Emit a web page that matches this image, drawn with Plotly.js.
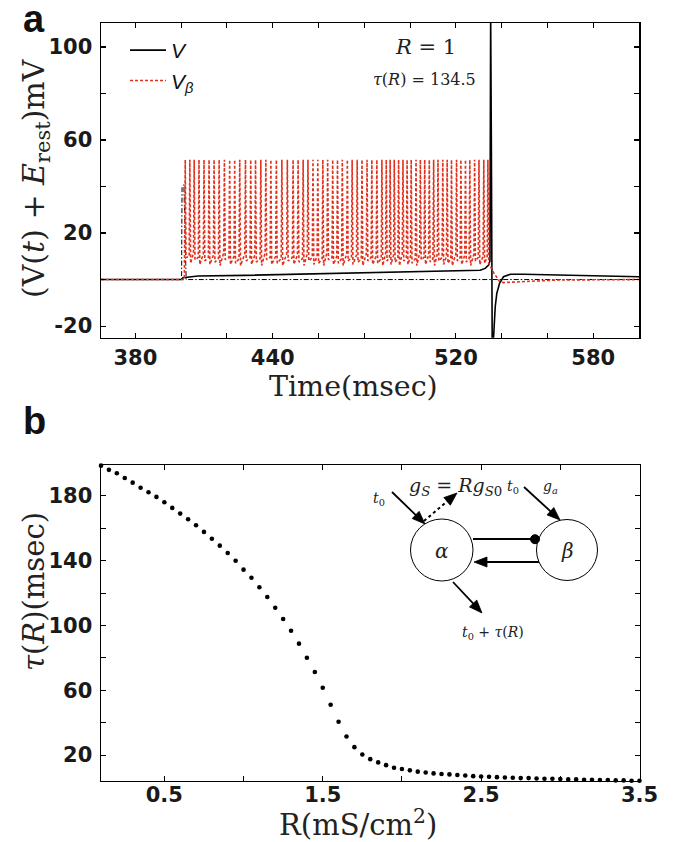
<!DOCTYPE html>
<html>
<head>
<meta charset="utf-8">
<script src="https://cdn.plot.ly/plotly-3.0.1.min.js"></script>
<style>html,body{margin:0;padding:0;background:#fff;}#chart{width:679px;height:842px;}</style>
</head>
<body>
<div id="chart"></div>
<script>
// ---------- Panel a data ----------
const timeTicks = [380, 440, 520, 580];
const timeMinorTicks = [380, 400, 420, 440, 460, 480, 500, 520, 540, 560, 580];
const voltTicks = [-20, 20, 60, 100];
const voltMinorTicks = [-20, 0, 20, 40, 60, 80, 100];

// V (black solid)
const vT = [365, 400.2, 400.8, 407.4, 427.8, 451, 487, 510, 530.6, 532.8, 534.3, 534.9, 535.0, 535.2, 535.5, 535.7, 535.9, 536.3, 536.8, 537.2, 537.9, 539.1, 540.8, 543.8, 549.6, 571.5, 600];
const vV = [0, 0, 0.8, 1.5, 1.8, 2.3, 2.9, 3.4, 4.0, 4.8, 6.2, 8, 40, 115, 60, -10, -32, -28, -18, -11.7, -5.9, -1.6, 1.2, 2.3, 2.3, 1.8, 1.2];

// input pulse (black dash-dot)
const inT = [365, 400.2, 400.4, 401.2, 401.7, 402.2, 600];
const inV = [0, 0, 39.5, 40.8, 20, 0, 0];

// V_beta (red dotted): spike times, troughs, peak
const spikeT = [401.8, 403.8, 405.7, 407.8, 410.0, 412.2, 414.4, 416.6,
  418.9, 421.2, 423.4, 425.6, 428.1, 430.4, 432.5, 434.8,
  437.0, 439.2, 441.6, 444.0, 446.4, 448.9, 451.1, 453.3,
  455.4, 457.6, 459.7, 461.9, 464.0, 466.2, 468.3, 470.4,
  472.6, 474.7, 476.9, 479.0, 481.2, 483.3, 485.5, 487.7,
  489.6, 491.3, 493.1, 495.0, 496.9, 498.7, 500.5, 502.6,
  504.5, 506.4, 508.4, 510.3, 512.2, 514.3, 516.2, 518.1,
  520.3, 522.2, 524.2, 526.1, 528.2, 530.1, 532.2, 534.0];
const spikeMin = [9.5, 7.0, 8.5, 6.5, 8.0, 6.5, 7.5, 6.0,
  8.5, 6.5, 7.0, 6.0, 8.0, 6.5, 7.5, 6.0,
  8.5, 6.5, 7.0, 6.0, 8.0, 6.5, 7.5, 6.0,
  8.0, 6.5, 7.0, 6.0, 8.5, 6.5, 7.0, 6.0,
  8.0, 6.5, 7.5, 6.0, 8.0, 6.5, 7.0, 6.0,
  8.0, 6.5, 7.5, 6.0, 8.0, 6.5, 7.0, 6.0,
  8.5, 6.5, 7.5, 6.0, 8.0, 6.5, 7.0, 6.0,
  8.0, 6.5, 7.5, 6.0, 8.0, 6.5, 7.0, 7.0];
const spikePeak = 51.5;
const vbPreT = [365, 401.4];
const vbPreV = [0, 0];
const vbPostT = [536.5, 539.1, 540.8, 549.6, 564.2, 600];
const vbPostV = [3, -0.9, -1.3, -0.9, -0.2, 0];

// ---------- Panel b data ----------
const R = [0.10, 0.15, 0.20, 0.25, 0.30, 0.35, 0.40, 0.45, 0.50, 0.55,
  0.60, 0.65, 0.70, 0.75, 0.80, 0.85, 0.90, 0.95, 1.00, 1.05,
  1.10, 1.15, 1.20, 1.25, 1.30, 1.35, 1.40, 1.45, 1.50, 1.55,
  1.60, 1.65, 1.70, 1.75, 1.80, 1.85, 1.90, 1.95, 2.00, 2.05,
  2.10, 2.15, 2.20, 2.25, 2.30, 2.35, 2.40, 2.45, 2.50, 2.55,
  2.60, 2.65, 2.70, 2.75, 2.80, 2.85, 2.90, 2.95, 3.00, 3.05,
  3.10, 3.15, 3.20, 3.25, 3.30, 3.35, 3.40, 3.45, 3.50];
const tau = [198.7, 196.1, 194.0, 191.1, 188.2, 185.1, 182.3, 179.4, 176.1, 172.6,
  169.1, 165.6, 161.9, 157.8, 153.6, 149.3, 144.8, 140.0, 134.5, 129.5,
  123.6, 117.6, 111.0, 104.0, 96.8, 88.8, 80.1, 71.3, 61.6, 51.1,
  40.6, 31.5, 24.9, 20.4, 17.5, 15.5, 13.8, 12.2, 11.4, 10.6,
  9.8, 9.3, 8.7, 8.3, 8.1, 7.7, 7.4, 7.0, 6.8, 6.6,
  6.4, 6.2, 6.0, 5.8, 5.8, 5.6, 5.4, 5.4, 5.2, 5.0,
  5.0, 4.8, 4.8, 4.6, 4.6, 4.4, 4.4, 4.2, 4.2];
const rTicks = [0.5, 1.5, 2.5, 3.5];
const rMinorTicks = [0.5, 1.0, 1.5, 2.0, 2.5, 3.0, 3.5];
const tauTicks = [20, 60, 100, 140, 180];
const tauMinorTicks = [20, 40, 60, 80, 100, 120, 140, 160, 180];

// ---------- build V_beta polyline from spike data ----------
const vbT = vbPreT.slice(), vbV = vbPreV.slice();
spikeT.forEach(function (t, i) {
  vbT.push(t - 0.3); vbV.push(spikeMin[i] + 3);
  vbT.push(t); vbV.push(spikePeak);
  vbT.push(t + 0.35); vbV.push(spikeMin[i]);
});
vbPostT.forEach(function (t, i) { vbT.push(t); vbV.push(vbPostV[i]); });

// ---------- helpers for layout positions (pixels -> paper) ----------
const W = 679, H = 842;
const px = x => x / W;
const py = y => 1 - y / H;

const tickFont = {family: 'DejaVu Sans', size: 21, color: '#1a1a1a', weight: 'bold'};
const serif = 'DejaVu Serif';
function axis(extra, minorVals) {
  return Object.assign({
    showline: true, linecolor: '#000', linewidth: 1.5, mirror: 'ticks',
    ticks: 'inside', ticklen: 5, tickwidth: 1.1, tickcolor: '#000',
    showgrid: false, zeroline: false, tickfont: tickFont, tickmode: 'array',
    minor: {tickmode: 'array', tickvals: minorVals, ticks: 'inside', ticklen: 5,
            tickwidth: 1.1, tickcolor: '#000', showgrid: false}
  }, extra);
}

const traces = [
  {x: inT, y: inV, xaxis: 'x', yaxis: 'y', mode: 'lines', showlegend: false,
   line: {color: '#000', width: 1, dash: '5px,2px,1.5px,2px'}, hoverinfo: 'skip'},
  {x: vT, y: vV, xaxis: 'x', yaxis: 'y', mode: 'lines', name: '<i>V</i>', legendgroup: 'g1',
   line: {color: '#000', width: 1.6}},
  {x: vbT, y: vbV, xaxis: 'x', yaxis: 'y', mode: 'lines', name: '<i>V</i><sub><i>β</i></sub>', legendgroup: 'g2',
   line: {color: '#e2301c', width: 1.6, dash: '3px,2px'}},
  {x: R, y: tau, xaxis: 'x2', yaxis: 'y2', mode: 'markers', showlegend: false, cliponaxis: false,
   marker: {color: '#000', size: 4.6}}
];

function txt(x, y, text, size, opts) {
  return Object.assign({xref: 'paper', yref: 'paper', x: px(x), y: py(y), text: text,
    showarrow: false, xanchor: 'center', yanchor: 'middle',
    font: {family: serif, size: size, color: '#222'}}, opts || {});
}
// arrow drawn as a line + filled triangular head (pixel coords -> paper)
function arrowShapes(tx, ty, hx, hy, lineW, dash) {
  const dx = hx - tx, dy = hy - ty, len = Math.sqrt(dx * dx + dy * dy);
  const ux = dx / len, uy = dy / len, L = 13, hw = 5;
  const bx = hx - ux * L, by = hy - uy * L;
  const p1x = bx - uy * hw, p1y = by + ux * hw, p2x = bx + uy * hw, p2y = by - ux * hw;
  return [
    {type: 'line', xref: 'paper', yref: 'paper', x0: px(tx), y0: py(ty), x1: px(bx + ux * 2), y1: py(by + uy * 2),
     line: {color: '#000', width: lineW || 1.8, dash: dash || 'solid'}},
    {type: 'path', xref: 'paper', yref: 'paper', fillcolor: '#000', line: {color: '#000', width: 0.8},
     path: 'M ' + px(hx) + ' ' + py(hy) + ' L ' + px(p1x) + ' ' + py(p1y) + ' L ' + px(p2x) + ' ' + py(p2y) + ' Z'}
  ];
}

const annotations = [
  txt(34, 19, 'a', 38, {font: {family: 'Liberation Sans', size: 38, color: '#111', weight: 'bold'}}),
  txt(34, 421, 'b', 38, {font: {family: 'Liberation Sans', size: 38, color: '#111', weight: 'bold'}}),
  txt(353, 386, 'Time(msec)', 28.5),
  txt(35, 178, '(V(<i>t</i>) + <i>E</i><sub>rest</sub>)mV', 30, {textangle: -90}),
  txt(358, 823, 'R(mS/cm<sup>2</sup>)', 29),
  txt(34, 592, '<i>τ</i>(<i>R</i>)(msec)', 29, {textangle: -90}),
  txt(425, 47, '<i>R</i> = 1', 21),
  txt(424, 80, '<i>τ</i>(<i>R</i>) = 134.5', 16),
  // diagram texts
  txt(379, 499, '<i>t</i><sub>0</sub>', 14),
  txt(456, 486, '<i>g</i><sub><i>S</i></sub> = <i>Rg</i><sub><i>S</i>0</sub>', 19),
  txt(513, 487, '<i>t</i><sub>0</sub>', 14),
  txt(550, 487, '<i>g</i><sub><i>a</i></sub>', 14),
  txt(442, 551, '<i>α</i>', 20),
  txt(567, 551, '<i>β</i>', 20),
  txt(493, 633, '<i>t</i><sub>0</sub> + <i>τ</i>(<i>R</i>)', 14)
];

let shapes = [
  {type: 'circle', xref: 'paper', yref: 'paper', x0: px(410.5), x1: px(473), y0: py(519), y1: py(581),
   line: {color: '#000', width: 1}},
  {type: 'circle', xref: 'paper', yref: 'paper', x0: px(536.5), x1: px(597.5), y0: py(519.5), y1: py(580.5),
   line: {color: '#000', width: 1}},
  {type: 'line', xref: 'paper', yref: 'paper', x0: px(473), x1: px(532), y0: py(539), y1: py(539),
   line: {color: '#000', width: 1.8}},
  {type: 'circle', xref: 'paper', yref: 'paper', x0: px(530.5), x1: px(539.5), y0: py(534.7), y1: py(543.7),
   fillcolor: '#000', line: {color: '#000', width: 1}}
];
shapes = shapes
  .concat(arrowShapes(392, 492, 425, 524))
  .concat(arrowShapes(524, 487, 560, 520))
  .concat(arrowShapes(453, 582, 482, 613))
  .concat(arrowShapes(539, 562, 474, 562))
  .concat(arrowShapes(424, 521, 457, 493, 2, 'dot'));

const layout = {
  width: W, height: H,
  margin: {l: 0, r: 0, t: 0, b: 0},
  paper_bgcolor: '#fff', plot_bgcolor: '#fff',
  font: {family: 'DejaVu Sans', color: '#111'},
  xaxis: axis({domain: [px(101), px(639)], range: [365, 600], anchor: 'y',
    tickvals: timeTicks, ticktext: timeTicks.map(String), ticklabelstandoff: 1}, timeMinorTicks),
  yaxis: axis({domain: [py(337.7), py(23)], range: [-25, 110.3], anchor: 'x',
    tickvals: voltTicks, ticktext: voltTicks.map(String), ticklabelstandoff: 3}, voltMinorTicks),
  xaxis2: axis({domain: [px(101), px(639.5)], range: [0.1, 3.5], anchor: 'y2',
    tickvals: rTicks, ticktext: rTicks.map(v => v.toFixed(1)), ticklabelstandoff: -5}, rMinorTicks),
  yaxis2: axis({domain: [py(780.7), py(465)], range: [4.2, 199.1], anchor: 'x2',
    tickvals: tauTicks, ticktext: tauTicks.map(String), ticklabelstandoff: 3}, tauMinorTicks),
  showlegend: true,
  legend: {x: px(125), y: py(30), xanchor: 'left', yanchor: 'top', bgcolor: 'rgba(0,0,0,0)',
    borderwidth: 0, itemwidth: 36, traceorder: 'grouped', tracegroupgap: 0,
    font: {family: 'Liberation Sans', size: 21, color: '#111'}},
  annotations: annotations,
  shapes: shapes
};

Plotly.newPlot('chart', traces, layout, {staticPlot: true, displayModeBar: false});
</script>
</body>
</html>
